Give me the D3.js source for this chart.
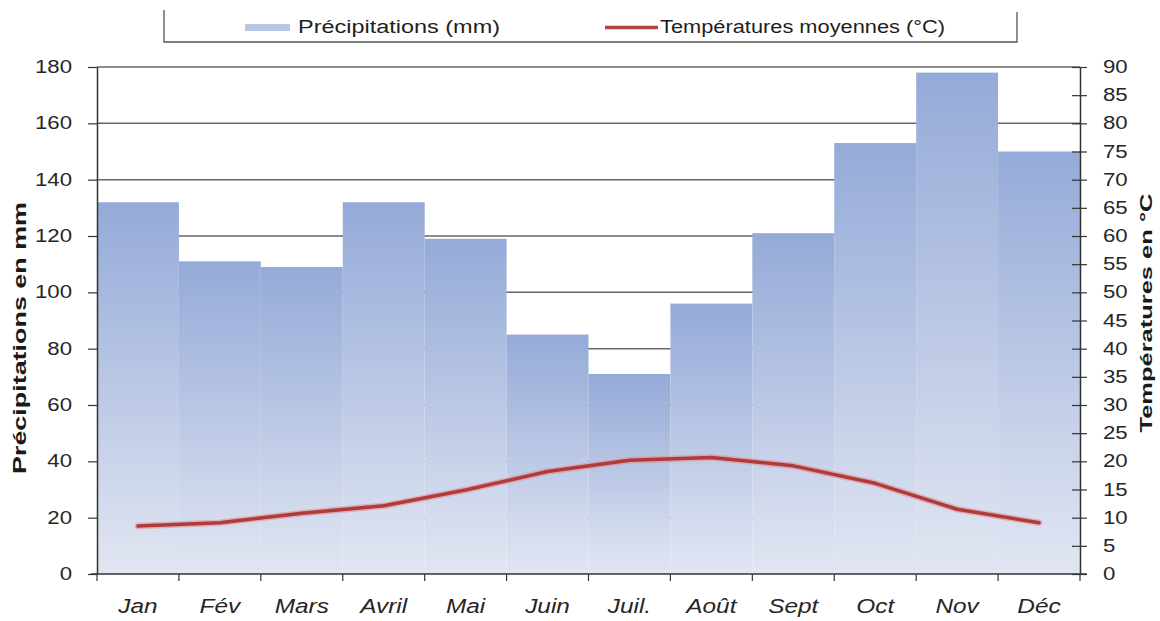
<!DOCTYPE html>
<html>
<head>
<meta charset="utf-8">
<script src="https://cdn.jsdelivr.net/npm/d3@7"></script>
<style>
  body { margin: 0; background: #fff; }
  svg { display: block; font-family: "Liberation Sans", Arial, sans-serif; }
</style>
</head>
<body>
<svg id="chart" width="1160" height="621"></svg>
<script>
// data
const months = ["Jan", "Fév", "Mars", "Avril", "Mai", "Juin", "Juil.", "Août", "Sept", "Oct", "Nov", "Déc"];
const precipitations = [132, 111, 109, 132, 119, 85, 71, 96, 121, 153, 178, 150];
const temperatures = [8.5, 9.1, 10.8, 12.1, 14.9, 18.2, 20.2, 20.7, 19.2, 16.1, 11.5, 9.1];
const precipTicks = d3.range(0, 181, 20);
const tempTicks = d3.range(0, 91, 5);
const legendLabels = ["Précipitations (mm)", "Températures moyennes (°C)"];

const svg = d3.select("#chart");

// plot area
const plotL = 97, plotR = 1080, plotT = 67, plotB = 574;

const x = d3.scaleBand().domain(months).range([plotL, plotR]).padding(0);
const yL = d3.scaleLinear().domain([0, 180]).range([plotB, plotT]);
const yR = d3.scaleLinear().domain([0, 90]).range([plotB, plotT]);

// the source text is drawn wide, so stretch each label along its length
function stretch(sel, k) {
  sel.each(function() {
    const w = this.getComputedTextLength();
    d3.select(this).attr("textLength", w * k).attr("lengthAdjust", "spacingAndGlyphs");
  });
}

// bar gradient
const defs = svg.append("defs");
const grad = defs.append("linearGradient")
  .attr("id", "barGrad")
  .attr("x1", 0).attr("y1", 0).attr("x2", 0).attr("y2", 1);
grad.append("stop").attr("offset", "0%").attr("stop-color", "#94aad8");
grad.append("stop").attr("offset", "100%").attr("stop-color", "#e2e6f2");

// horizontal grid (behind bars)
svg.append("g")
  .selectAll("line")
  .data(precipTicks.filter(d => d > 0))
  .join("line")
    .attr("x1", plotL).attr("x2", plotR)
    .attr("y1", d => yL(d)).attr("y2", d => yL(d))
    .attr("stroke", "#666")
    .attr("stroke-width", 1.5);

// bars
svg.append("g")
  .selectAll("rect")
  .data(months)
  .join("rect")
    .attr("x", d => x(d))
    .attr("y", (d, i) => yL(precipitations[i]))
    .attr("width", x.bandwidth())
    .attr("height", (d, i) => plotB - yL(precipitations[i]))
    .attr("fill", "url(#barGrad)");

// temperature line
const line = d3.line()
  .x((d, i) => x(months[i]) + x.bandwidth() / 2)
  .y(d => yR(d));

svg.append("path")
  .datum(temperatures)
  .attr("d", line)
  .attr("fill", "none")
  .attr("stroke", "#e08a8a")
  .attr("stroke-width", 6.5)
  .attr("stroke-opacity", 0.55)
  .attr("stroke-linejoin", "round")
  .attr("stroke-linecap", "round");

svg.append("path")
  .datum(temperatures)
  .attr("d", line)
  .attr("fill", "none")
  .attr("stroke", "#b13a3a")
  .attr("stroke-width", 3.5)
  .attr("stroke-linejoin", "round")
  .attr("stroke-linecap", "round");

// left axis
const axL = svg.append("g")
  .attr("transform", "translate(" + plotL + ",0)")
  .call(d3.axisLeft(yL).tickValues(precipTicks).tickSize(9).tickSizeOuter(0).tickPadding(16));
axL.select(".domain").attr("stroke", "#333").attr("stroke-width", 1.5);
axL.selectAll(".tick line").attr("stroke", "#333").attr("stroke-width", 1.2);
axL.selectAll(".tick text")
  .attr("font-size", 17.5)
  .attr("fill", "#262626")
  .call(stretch, 1.27);

// right axis
const axR = svg.append("g")
  .attr("transform", "translate(" + plotR + ",0)")
  .call(d3.axisRight(yR).tickValues(tempTicks).tickSize(7).tickSizeOuter(0).tickPadding(16));
axR.select(".domain").attr("stroke", "#333").attr("stroke-width", 1.5);
axR.selectAll(".tick line").attr("x1", -8).attr("stroke", "#333").attr("stroke-width", 1.2);
axR.selectAll(".tick text")
  .attr("font-size", 17.5)
  .attr("fill", "#262626")
  .call(stretch, 1.27);

// bottom axis: labels at band centres, ticks at band edges
const axB = svg.append("g")
  .attr("transform", "translate(0," + plotB + ")")
  .call(d3.axisBottom(x).tickSize(0).tickSizeOuter(0).tickPadding(25));
axB.select(".domain").remove();
axB.selectAll(".tick text")
  .attr("font-size", 19.5)
  .attr("font-style", "italic")
  .attr("fill", "#262626")
  .call(stretch, 1.25);

svg.append("line")
  .attr("x1", plotL - 6).attr("x2", plotR + 7)
  .attr("y1", plotB).attr("y2", plotB)
  .attr("stroke", "#333").attr("stroke-width", 1.5);

svg.append("g")
  .selectAll("line")
  .data(months.map(m => x(m)).concat([plotR]))
  .join("line")
    .attr("x1", d => d).attr("x2", d => d)
    .attr("y1", plotB).attr("y2", plotB + 7)
    .attr("stroke", "#333").attr("stroke-width", 1.2);

// axis titles
svg.append("text")
  .attr("transform", "translate(26,338) rotate(-90)")
  .attr("text-anchor", "middle")
  .attr("font-size", 17.5)
  .attr("font-weight", "bold")
  .attr("fill", "#1a1a1a")
  .attr("textLength", 272)
  .attr("lengthAdjust", "spacingAndGlyphs")
  .text("Précipitations en mm");

svg.append("text")
  .attr("transform", "translate(1152,313) rotate(-90)")
  .attr("text-anchor", "middle")
  .attr("font-size", 17)
  .attr("font-weight", "bold")
  .attr("fill", "#1a1a1a")
  .attr("textLength", 239)
  .attr("lengthAdjust", "spacingAndGlyphs")
  .text("Températures en °C");

// legend box (top edge is open)
svg.append("path")
  .attr("d", "M164,10V42H1017V12")
  .attr("fill", "none")
  .attr("stroke", "#555")
  .attr("stroke-width", 1.3);

const legend = svg.append("g");
legend.append("rect")
  .attr("x", 245).attr("y", 24).attr("width", 45).attr("height", 7)
  .attr("fill", "#b9c7e6");
legend.append("text")
  .attr("x", 298).attr("y", 33)
  .attr("font-size", 18)
  .attr("fill", "#1e1e1e")
  .attr("textLength", 202)
  .attr("lengthAdjust", "spacingAndGlyphs")
  .text(legendLabels[0]);

legend.append("line")
  .attr("x1", 605).attr("x2", 658).attr("y1", 27.5).attr("y2", 27.5)
  .attr("stroke", "#b44444").attr("stroke-width", 3.5);
legend.append("text")
  .attr("x", 660).attr("y", 33)
  .attr("font-size", 18)
  .attr("fill", "#1e1e1e")
  .attr("textLength", 285)
  .attr("lengthAdjust", "spacingAndGlyphs")
  .text(legendLabels[1]);
</script>
</body>
</html>
